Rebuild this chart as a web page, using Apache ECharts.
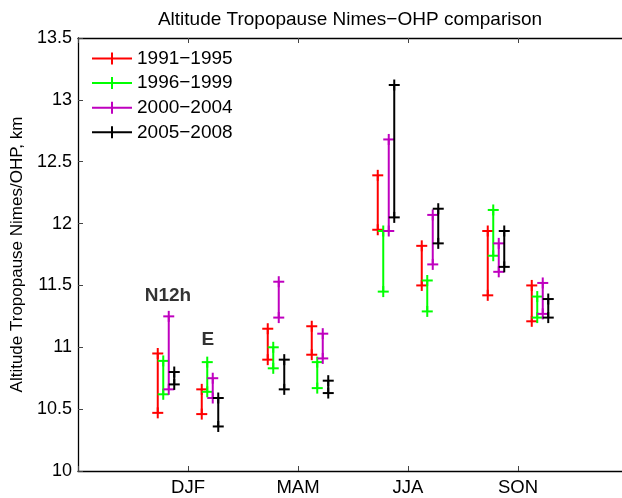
<!DOCTYPE html>
<html>
<head>
<meta charset="utf-8">
<script src="https://cdn.jsdelivr.net/npm/echarts@6/dist/echarts.min.js"></script>
<style>
html,body{margin:0;padding:0;background:#fff;overflow:hidden;width:622px;height:498px;}
#chart{width:622px;height:498px;}
</style>
</head>
<body>
<div id="chart"></div>
<script>
// ---- data ----
const seasons = ['DJF', 'MAM', 'JJA', 'SON'];
const stations = ['N12h', 'E'];
const periods = ['1991\u22121995', '1996\u22121999', '2000\u22122004', '2005\u22122008'];
// order of groups: DJF N12h, DJF E, MAM N12h, MAM E, JJA N12h, JJA E, SON N12h, SON E
const top1991 = [10.95, 10.66, 11.15, 11.17, 12.39, 11.82, 11.94, 11.50];
const bot1991 = [10.47, 10.46, 10.90, 10.94, 11.95, 11.50, 11.42, 11.21];
const top1996 = [10.89, 10.88, 11.00, 10.88, 11.94, 11.54, 12.11, 11.41];
const bot1996 = [10.62, 10.64, 10.83, 10.67, 11.45, 11.29, 11.74, 11.24];
const top2000 = [11.25, 10.75, 11.53, 11.11, 12.68, 12.07, 11.84, 11.52];
const bot2000 = [10.66, 10.59, 11.24, 10.91, 11.94, 11.67, 11.61, 11.27];
const top2005 = [10.80, 10.59, 10.90, 10.73, 13.12, 12.12, 11.94, 11.39];
const bot2005 = [10.70, 10.36, 10.66, 10.63, 12.05, 11.84, 11.65, 11.24];
const yTicks = [10, 10.5, 11, 11.5, 12, 12.5, 13, 13.5];

const tops = [top1991, top1996, top2000, top2005];
const bots = [bot1991, bot1996, bot2000, bot2005];
const colors = ['#ff0000', '#00ff00', '#bf00bf', '#000000'];
const FONT = 'Liberation Sans, Arial, Helvetica, sans-serif';

function buildData(k) {
  const out = [];
  for (let g = 0; g < tops[k].length; g++) {
    const s = Math.floor(g / 2) + 1;
    const sub = g % 2;
    const x = s + (sub === 0 ? -0.2 : 0.2) + (k - 1.5) * 0.05;
    out.push([x, bots[k][g], tops[k][g]]);
  }
  return out;
}

function renderItem(params, api) {
  const x = api.value(0), lo = api.value(1), hi = api.value(2);
  const p1 = api.coord([x, lo]);
  const p2 = api.coord([x, hi]);
  const c = api.visual('color');
  const h = 5.5;
  const st = { stroke: c, lineWidth: 2 };
  const mk = (a, b, cc, d) => ({ type: 'line', shape: { x1: a, y1: b, x2: cc, y2: d }, style: st });
  return {
    type: 'group',
    children: [
      mk(p1[0], p1[1], p2[0], p2[1]),
      mk(p1[0] - h, p1[1], p1[0] + h, p1[1]),
      mk(p1[0], p1[1] - h, p1[0], p1[1] + h),
      mk(p2[0] - h, p2[1], p2[0] + h, p2[1]),
      mk(p2[0], p2[1] - h, p2[0], p2[1] + h)
    ]
  };
}

const series = periods.map((name, k) => ({
  name: name,
  type: 'custom',
  renderItem: renderItem,
  itemStyle: { color: colors[k] },
  encode: { x: 0, y: [1, 2] },
  data: buildData(k),
  z: 3 + k
}));

series.push({
  type: 'scatter',
  symbolSize: 0,
  silent: true,
  data: [[0.818, 11.42, stations[0]], [1.18, 11.06, stations[1]]],
  label: {
    show: true,
    position: 'inside',
    formatter: p => p.value[2],
    fontFamily: FONT,
    fontWeight: 'bold',
    fontSize: 19,
    color: '#000',
    textBorderWidth: 0
  }
});

const legendIcon = 'path://M0,5L40,5L40,7L0,7Z M19,0L21,0L21,12L19,12Z';
const noSplit = { show: false, showMinLine: false, showMaxLine: false };

const chart = echarts.init(document.getElementById('chart'), null, { renderer: 'canvas' });
chart.setOption({
  animation: false,
  backgroundColor: '#fff',
  title: {
    text: 'Altitude Tropopause Nimes\u2212OHP comparison',
    left: 345,
    top: 5,
    textAlign: 'center',
    textStyle: { fontFamily: FONT, fontSize: 19, fontWeight: 'normal', color: '#000' }
  },
  legend: {
    orient: 'vertical',
    left: 92,
    top: 49,
    padding: 0,
    itemWidth: 40,
    itemHeight: 12,
    itemGap: 5.6,
    symbolKeepAspect: false,
    data: periods.map(p => ({ name: p, icon: legendIcon })),
    textStyle: { fontFamily: FONT, fontSize: 19, color: '#000', lineHeight: 18 }
  },
  grid: {
    show: false, borderWidth: 0,
    left: 78, top: 38, width: 550, height: 433,
    containLabel: false, outerBoundsMode: 'none'
  },
  xAxis: [{
    type: 'value',
    min: 0, max: 5, interval: 1,
    position: 'bottom',
    axisLine: { show: true, lineStyle: { color: '#000', width: 1.3 } },
    axisTick: { show: true, inside: true, length: 5, lineStyle: { color: '#444' } },
    splitLine: noSplit,
    axisLabel: {
      margin: 7,
      fontFamily: FONT, fontSize: 18.5, color: '#000',
      formatter: v => (v >= 1 && v <= seasons.length ? seasons[v - 1] : '')
    }
  }, {
    type: 'value',
    min: 0, max: 5, interval: 1,
    position: 'top',
    axisLine: { show: true, lineStyle: { color: '#000', width: 1.3 } },
    axisTick: { show: true, inside: true, length: 5, lineStyle: { color: '#444' } },
    splitLine: noSplit,
    axisLabel: { show: false }
  }],
  yAxis: {
    type: 'value',
    min: yTicks[0], max: yTicks[yTicks.length - 1], interval: 0.5,
    name: 'Altitude Tropopause Nimes/OHP, km',
    nameLocation: 'middle',
    nameRotate: 90,
    nameGap: 39,
    nameTextStyle: { fontFamily: FONT, fontSize: 17, color: '#000' },
    axisLine: { show: true, lineStyle: { color: '#000', width: 1.3 } },
    axisTick: { show: true, inside: true, length: 5, lineStyle: { color: '#444' } },
    splitLine: noSplit,
    axisLabel: { margin: 6, fontFamily: FONT, fontSize: 18, color: '#000' }
  },
  series: series
});
</script>
</body>
</html>
